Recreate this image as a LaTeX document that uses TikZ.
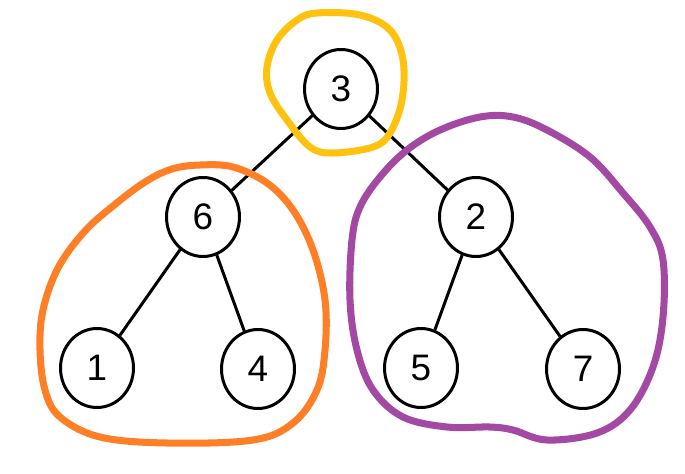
\documentclass[tikz,border=0pt]{standalone}
\usepackage{fontspec}
\setmainfont{Liberation Sans}
\usetikzlibrary{shapes.geometric}
\definecolor{gold}{HTML}{FFC20E}
\definecolor{paintorange}{HTML}{FF7F27}
\definecolor{paintpurple}{HTML}{A349A4}
\tikzset{
  vertex/.style={ellipse, draw, line width=1.7pt, fill=white,
    minimum width=1.46cm, minimum height=1.58cm, inner sep=0pt,
    font=\fontsize{21}{21}\selectfont},
  edge/.style={line width=1.7pt},
  loop/.style={line width=4pt, line cap=round, line join=round}
}
\begin{document}
\begin{tikzpicture}[x=0.02cm, y=-0.02cm]
  \useasboundingbox (0,0) rectangle (685,473);
  % 頂点
  \node[vertex] (n3) at (341,89) {3};
  \node[vertex] (n6) at (203,217) {6};
  \node[vertex] (n2) at (476,217) {2};
  \node[vertex] (n1) at (97,368) {1};
  \node[vertex] (n4) at (258,369) {4};
  \node[vertex] (n5) at (421,368) {5};
  \node[vertex] (n7) at (583,369) {7};
  % 辺
  \draw[edge] (n3) -- (n6);
  \draw[edge] (n3) -- (n2);
  \draw[edge] (n6) -- (n1);
  \draw[edge] (n6) -- (n4);
  \draw[edge] (n2) -- (n5);
  \draw[edge] (n2) -- (n7);
  % 手書きの囲み
  \draw[loop, gold] plot[smooth cycle, tension=0.6] coordinates {
    (317,13) (360,15) (390,30) (403,60) (402,100) (390,133) (373,147)
    (333,153) (310,147) (287,120) (270,93) (267,67) (277,40) (297,20)};
  \draw[loop, paintorange] plot[smooth cycle, tension=0.6] coordinates {
    (200,165) (233,167) (267,183) (293,210) (313,250) (325,300) (325,350)
    (317,390) (293,423) (253,440) (167,443) (100,437) (60,417) (45,390)
    (40,350) (43,310) (58,268) (84,232) (113,206) (145,182) (172,169)};
  \draw[loop, paintpurple] plot[smooth cycle, tension=0.6] coordinates {
    (480,117) (513,117) (547,130) (590,157) (623,193) (650,227) (663,260)
    (663,317) (653,367) (630,410) (597,433) (547,440) (513,430) (490,427)
    (447,427) (403,417) (373,390) (357,350) (350,300) (352,240) (360,207)
    (380,177) (407,150) (440,130)};
\end{tikzpicture}
\end{document}
